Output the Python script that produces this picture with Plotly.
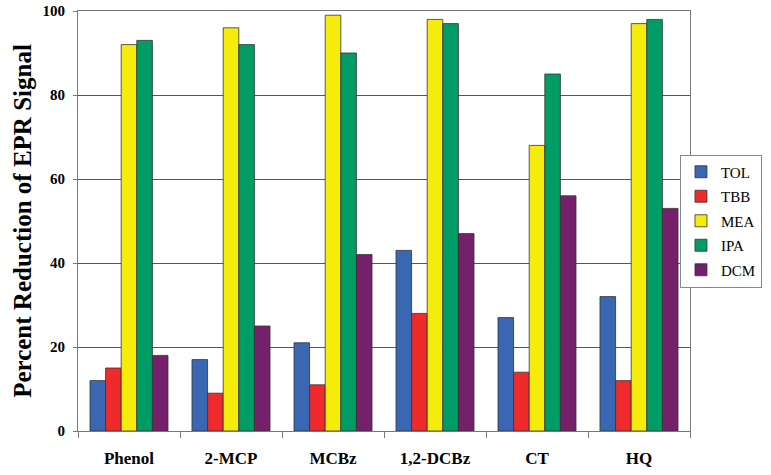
import plotly.graph_objects as go

categories = ["Phenol", "2-MCP", "MCBz", "1,2-DCBz", "CT", "HQ"]
TOL = [12, 17, 21, 43, 27, 32]
TBB = [15, 9, 11, 28, 14, 12]
MEA = [92, 96, 99, 98, 68, 97]
IPA = [93, 92, 90, 97, 85, 98]
DCM = [18, 25, 42, 47, 56, 53]

series = [("TOL", TOL, "#3A67B1"), ("TBB", TBB, "#EE2A2A"), ("MEA", MEA, "#F5EC0C"),
          ("IPA", IPA, "#009C66"), ("DCM", DCM, "#75206A")]

font = "Liberation Serif"
fig = go.Figure()
for name, vals, col in series:
    fig.add_trace(go.Bar(x=categories, y=vals, name=name, marker_color=col,
                         legendgroup=name,
                         marker_line=dict(color="#333333", width=0.8)))

fig.update_layout(
    width=771, height=475,
    margin=dict(l=78, r=81, t=11, b=44, autoexpand=False),
    paper_bgcolor="white", plot_bgcolor="white",
    barmode="group", bargap=0.235, bargroupgap=0,
    font=dict(family=font, color="black"),
    legend=dict(x=1.1176, xanchor="right", y=0.5, yanchor="middle",
                bordercolor="#888888", borderwidth=1,
                font=dict(family=font, size=15, color="black"),
                itemwidth=30, tracegroupgap=2),
    showlegend=True,
)
fig.update_xaxes(
    type="category", tickson="boundaries", ticks="outside", ticklen=6,
    tickcolor="#777777", showline=True, linecolor="#777777", linewidth=1,
    mirror=True, showgrid=False, automargin=False,
    tickfont=dict(family=font, size=17, color="black", weight="bold"),
    ticklabelstandoff=12,
)
fig.update_yaxes(
    range=[0, 100], tickvals=[0, 20, 40, 60, 80, 100],
    ticks="outside", ticklen=4, tickcolor="#777777", automargin=False,
    showline=True, linecolor="#777777", linewidth=1, mirror=True,
    showgrid=True, gridcolor="#555555", gridwidth=1,
    tickfont=dict(family=font, size=15, color="black", weight="bold"),
    ticklabelstandoff=5, ticklabeloverflow="allow",
    title=dict(text="Percent Reduction of EPR Signal",
               font=dict(family=font, size=25, color="black", weight="bold"),
               standoff=3),
)
fig.write_html("out.html", config={"displayModeBar": False},
               post_script="document.body.style.margin='0';")
